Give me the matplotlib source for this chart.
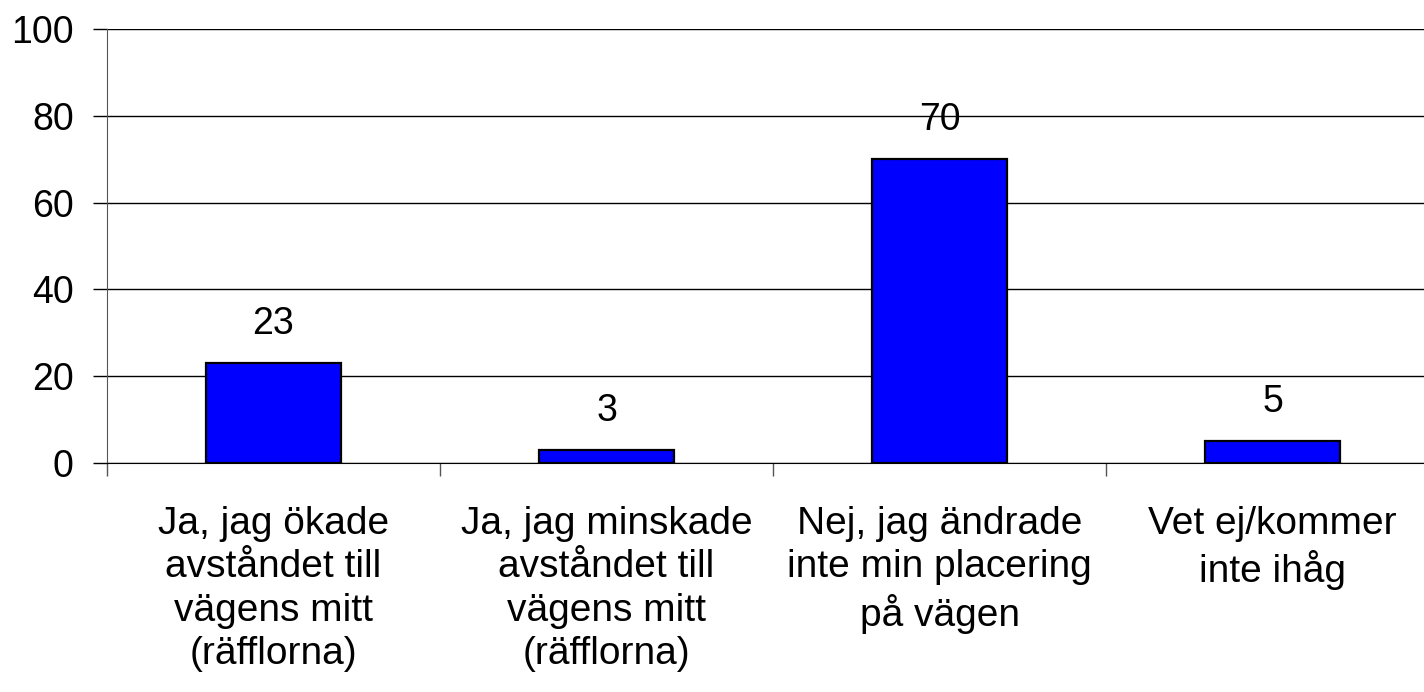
import numpy as np
import matplotlib.pyplot as plt

categories = ['Ja, jag ökade\navståndet till\nvägens mitt\n(räfflorna)',
              'Ja, jag minskade\navståndet till\nvägens mitt\n(räfflorna)',
              'Nej, jag ändrade\ninte min placering\npå vägen',
              'Vet ej/kommer\ninte ihåg']
values = [23, 3, 70, 5]
yticks = [0, 20, 40, 60, 80, 100]

plt.rcParams['font.family'] = ['Liberation Sans', 'DejaVu Sans']

fig = plt.figure(figsize=(14.24, 6.92), dpi=100)
ax = fig.add_axes([107 / 1424, 229 / 692, 1332 / 1424, 434 / 692])

x = np.arange(len(values))
ax.bar(x, values, width=0.405, color='#0000ff', edgecolor='black', linewidth=1.6, zorder=3)

for xi, v in zip(x, values):
    ax.annotate(str(v), (xi, v), xytext=(0, 15), textcoords='offset points',
                ha='center', va='bottom', fontsize=27, zorder=4)

ax.set_xlim(-0.5, len(values) - 0.5)
ax.set_ylim(0, 100)
ax.set_yticks(yticks)
ax.yaxis.grid(True, color='black', linewidth=1.0, zorder=0)

ax.set_xticks(x)
ax.set_xticklabels(categories, fontsize=28, linespacing=1.26)
ax.set_xticks(np.arange(-0.5, len(values)), minor=True)
ax.tick_params(axis='x', which='major', length=0, pad=31)
ax.tick_params(axis='x', which='minor', length=9, width=1, color='#555555')
ax.tick_params(axis='y', labelsize=27, length=10, width=1, pad=14)

for s in ['top', 'right']:
    ax.spines[s].set_visible(False)
ax.spines['left'].set_color('#555555')
ax.spines['bottom'].set_color('black')

fig.savefig('out.png', dpi=100)
